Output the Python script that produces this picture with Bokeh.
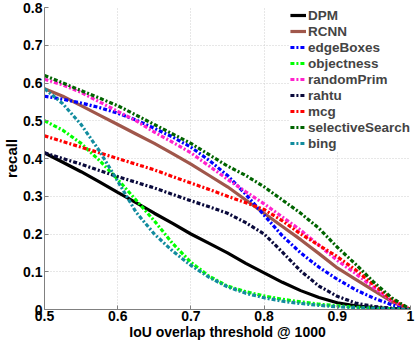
from bokeh.plotting import figure
from bokeh.models import Legend, LegendItem, FixedTicker
from bokeh.embed import file_html
from bokeh.resources import INLINE

iou = [0.5, 0.525, 0.55, 0.575, 0.6, 0.625, 0.65, 0.675, 0.7, 0.725, 0.75,
       0.775, 0.8, 0.825, 0.85, 0.875, 0.9, 0.925, 0.95, 0.975, 1.0]

dpm = [0.415, 0.39, 0.365, 0.338, 0.31, 0.283, 0.255, 0.228, 0.2, 0.175, 0.15,
       0.122, 0.097, 0.072, 0.05, 0.032, 0.018, 0.01, 0.005, 0.002, 0.0]
rcnn = [0.585, 0.565, 0.54, 0.515, 0.49, 0.465, 0.44, 0.413, 0.385, 0.355, 0.325,
        0.29, 0.255, 0.22, 0.185, 0.148, 0.11, 0.08, 0.05, 0.02, 0.0]
edge_boxes = [0.565, 0.557, 0.547, 0.535, 0.52, 0.502, 0.48, 0.457, 0.43, 0.395, 0.355,
              0.305, 0.25, 0.195, 0.15, 0.112, 0.08, 0.052, 0.03, 0.012, 0.0]
objectness = [0.5, 0.475, 0.44, 0.395, 0.345, 0.29, 0.235, 0.175, 0.125, 0.088, 0.062,
              0.047, 0.036, 0.027, 0.02, 0.014, 0.01, 0.006, 0.004, 0.002, 0.0]
random_prim = [0.61, 0.595, 0.575, 0.55, 0.525, 0.5, 0.47, 0.443, 0.415, 0.38, 0.345,
               0.312, 0.28, 0.245, 0.21, 0.17, 0.13, 0.095, 0.058, 0.022, 0.0]
rahtu = [0.415, 0.4, 0.385, 0.368, 0.352, 0.337, 0.322, 0.305, 0.288, 0.272, 0.255,
         0.23, 0.2, 0.152, 0.102, 0.062, 0.035, 0.017, 0.008, 0.003, 0.0]
mcg = [0.46, 0.445, 0.43, 0.415, 0.4, 0.385, 0.37, 0.352, 0.335, 0.318, 0.3,
       0.283, 0.265, 0.235, 0.2, 0.17, 0.14, 0.105, 0.065, 0.025, 0.0]
selective_search = [0.62, 0.6, 0.58, 0.56, 0.54, 0.515, 0.49, 0.465, 0.44, 0.41, 0.38,
                    0.355, 0.325, 0.29, 0.255, 0.215, 0.165, 0.12, 0.072, 0.03, 0.0]
bing = [0.585, 0.545, 0.49, 0.42, 0.34, 0.258, 0.2, 0.155, 0.117, 0.085, 0.06,
        0.043, 0.031, 0.022, 0.016, 0.011, 0.007, 0.005, 0.003, 0.001, 0.0]

names = ["DPM", "RCNN", "edgeBoxes", "objectness", "randomPrim", "rahtu", "mcg",
         "selectiveSearch", "bing"]
series = [dpm, rcnn, edge_boxes, objectness, random_prim, rahtu, mcg,
          selective_search, bing]
colors = ["#000000", "#A0574B", "#0000FF", "#00FF00", "#FF22CC", "#0A0A3C",
          "#FF0000", "#006400", "#128C9E"]
dashes = ["solid", "solid", "4 2 2 2", "4 2 2 2", "4 2 2 2", "4 2 2 2",
          "4 2 2 2", "4 2 2 2", "4 2 2 2"]

x_ticks = [0.5, 0.6, 0.7, 0.8, 0.9, 1.0]
x_tick_labels = ["0.5", "0.6", "0.7", "0.8", "0.9", "1"]
y_ticks = [0.0, 0.1, 0.2, 0.3, 0.4, 0.5, 0.6, 0.7, 0.8]
y_tick_labels = ["0", "0.1", "0.2", "0.3", "0.4", "0.5", "0.6", "0.7", "0.8"]

x_title = "IoU overlap threshold @ 1000"
y_title = "recall"

FONT = "Liberation Sans"

p = figure(width=415, height=342, x_range=(0.5, 1.0), y_range=(0.0, 0.8),
           output_backend="svg", toolbar_location=None,
           min_border_top=7, min_border_right=5, min_border_left=0,
           min_border_bottom=0)
p.outline_line_color = None
p.background_fill_color = "white"

items = []
for name, ys, c, d in zip(names, series, colors, dashes):
    r = p.line(iou, ys, line_color=c, line_width=3.2, line_dash=d)
    items.append(LegendItem(label=name, renderers=[r]))

for ax in (p.xaxis[0], p.yaxis[0]):
    ax.axis_line_color = "#808080"
    ax.major_tick_line_color = "#808080"
    ax.major_tick_in = 4
    ax.major_tick_out = 0
    ax.minor_tick_line_color = None
    ax.major_label_text_font = FONT
    ax.major_label_text_font_style = "bold"
    ax.major_label_text_font_size = "14px"
    ax.major_label_text_color = "black"
    ax.axis_label_text_font = FONT
    ax.axis_label_text_font_style = "bold"
    ax.axis_label_text_color = "black"
    ax.axis_label_standoff = 0
p.yaxis[0].major_label_standoff = 2
p.xaxis[0].major_label_standoff = 1
p.xaxis[0].axis_label_text_font_size = "14px"
p.yaxis[0].axis_label_text_font_size = "15px"
p.xaxis[0].axis_label = x_title
p.yaxis[0].axis_label = y_title

p.xaxis[0].ticker = FixedTicker(ticks=x_ticks)
p.yaxis[0].ticker = FixedTicker(ticks=y_ticks)
p.xaxis[0].major_label_overrides = dict(zip(x_ticks, x_tick_labels))
p.yaxis[0].major_label_overrides = dict(zip(y_ticks, y_tick_labels))

p.xgrid.ticker = FixedTicker(ticks=x_ticks)
p.ygrid.ticker = FixedTicker(ticks=y_ticks)
for g in (p.xgrid[0], p.ygrid[0]):
    g.grid_line_color = "#cfcfcf"
    g.grid_line_dash = "1 2"
    g.grid_line_width = 1

legend = Legend(items=items, location="top_right")
legend.margin = 0
legend.padding = 3
legend.spacing = 0
legend.label_height = 16
legend.glyph_height = 16
legend.glyph_width = 16
legend.label_standoff = 2
legend.label_text_font = FONT
legend.label_text_font_style = "bold"
legend.label_text_font_size = "13.5px"
legend.border_line_color = None
legend.background_fill_color = "white"
legend.background_fill_alpha = 1.0
p.add_layout(legend)

open("out.html", "w").write(file_html(p, INLINE))
